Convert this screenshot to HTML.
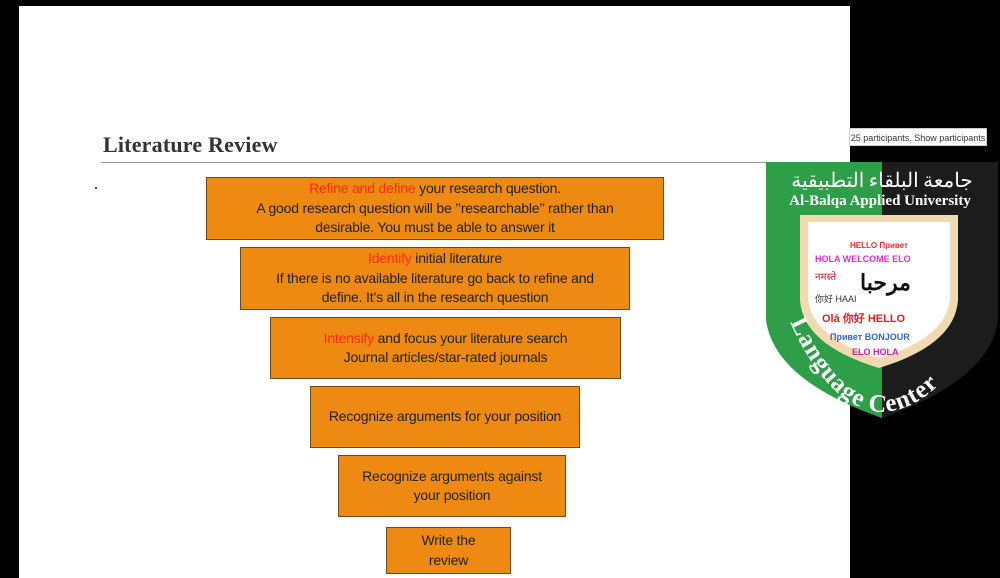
<!DOCTYPE html>
<html><head><meta charset="utf-8"><style>
body{margin:0;width:1000px;height:578px;background:#000;position:relative;overflow:hidden;font-family:"Liberation Sans",sans-serif}
.slide{position:absolute;left:19px;top:6px;width:831px;height:572px;background:#fff}
.title{position:absolute;left:103px;top:132px;font-family:"Liberation Serif",serif;font-weight:bold;font-size:22px;color:#333;letter-spacing:0.2px}
.rule{position:absolute;left:101px;top:162px;width:750px;height:1px;background:#999}
.box{position:absolute;background:#ee8a12;border:1.5px solid #6b4a1e;box-sizing:border-box;display:flex;align-items:center;justify-content:center;text-align:center;font-size:14px;line-height:19.5px;color:#222;letter-spacing:-0.2px}
.r{color:#ff2a10}
.tip{position:absolute;left:849px;top:128px;width:138px;height:18px;background:#fff;border:1px solid #ccc;font-size:9px;line-height:18px;text-align:center;color:#333;box-sizing:border-box}
</style></head><body>
<div class="slide"></div>
<div style="position:absolute;left:95px;top:187px;width:2px;height:2px;background:#555"></div>
<div class="title">Literature Review</div>
<div class="rule"></div>
<div class="box" style="left:206px;top:177px;width:458px;height:63px"><div><span class="r">Refine and define</span> your research question.<br>A good research question will be ’’researchable’’ rather than<br>desirable. You must be able to answer it</div></div>
<div class="box" style="left:240px;top:247px;width:390px;height:63px"><div><span class="r">Identify</span> initial literature<br>If there is no available literature go back to refine and<br>define. It’s all in the research question</div></div>
<div class="box" style="left:270px;top:317px;width:351px;height:62px"><div><span class="r">Intensify</span> and focus your literature search<br>Journal articles/star-rated journals</div></div>
<div class="box" style="left:310px;top:386px;width:270px;height:62px"><div>Recognize arguments for your position</div></div>
<div class="box" style="left:338px;top:455px;width:228px;height:62px"><div>Recognize arguments against<br>your position</div></div>
<div class="box" style="left:386px;top:527px;width:125px;height:47px"><div>Write the<br>review</div></div>
<div class="tip">25 participants. Show participants</div>
<svg style="position:absolute;left:0;top:0" width="1000" height="578">
<defs><clipPath id="s"><path d="M766 162 H998 V320 Q990 380 882 418 Q774 380 766 320 Z"/></clipPath>
<path id="arc" d="M790 322 Q830 410 882 412 Q935 410 978 330"/></defs>
<g clip-path="url(#s)">
<rect x="760" y="160" width="122" height="260" fill="#2f9e48"/>
<rect x="882" y="160" width="120" height="260" fill="#1c1c1c"/>
</g>
<path d="M800 215 H958 V300 Q955 345 879 368 Q803 345 800 300 Z" fill="#f1d9b0"/>
<path d="M808 222 H950 V298 Q947 338 879 358 Q811 338 808 298 Z" fill="#fff"/>
<text x="882" y="187" font-family="Noto Sans CJK SC, sans-serif" font-size="20" fill="#fff" text-anchor="middle">جامعة البلقاء التطبيقية</text>
<text x="880" y="205" font-family="Liberation Serif, serif" font-weight="bold" font-size="15" fill="#fff" text-anchor="middle">Al-Balqa Applied University</text>
<text x="850" y="248" font-size="8" fill="#d33" font-weight="bold">HELLO Привет</text>
<text x="815" y="262" font-size="9" fill="#d3c" font-weight="bold">HOLA WELCOME ELO</text>
<text x="815" y="280" font-size="10" fill="#c22">नमस्ते</text>
<text x="860" y="290" font-size="22" fill="#111" font-weight="bold">مرحبا</text>
<text x="815" y="302" font-size="9" fill="#333">你好 HAAI</text>
<text x="822" y="322" font-size="11" fill="#d22" font-weight="bold">Olá 你好 HELLO</text>
<text x="830" y="340" font-size="9" fill="#36c" font-weight="bold">Привет BONJOUR</text>
<text x="852" y="355" font-size="9" fill="#c2a" font-weight="bold">ELO HOLA</text>
<text font-family="Liberation Serif, serif" font-weight="bold" font-size="25" fill="#fff" letter-spacing="1"><textPath href="#arc">Language Center</textPath></text>
</svg>
</body></html>
